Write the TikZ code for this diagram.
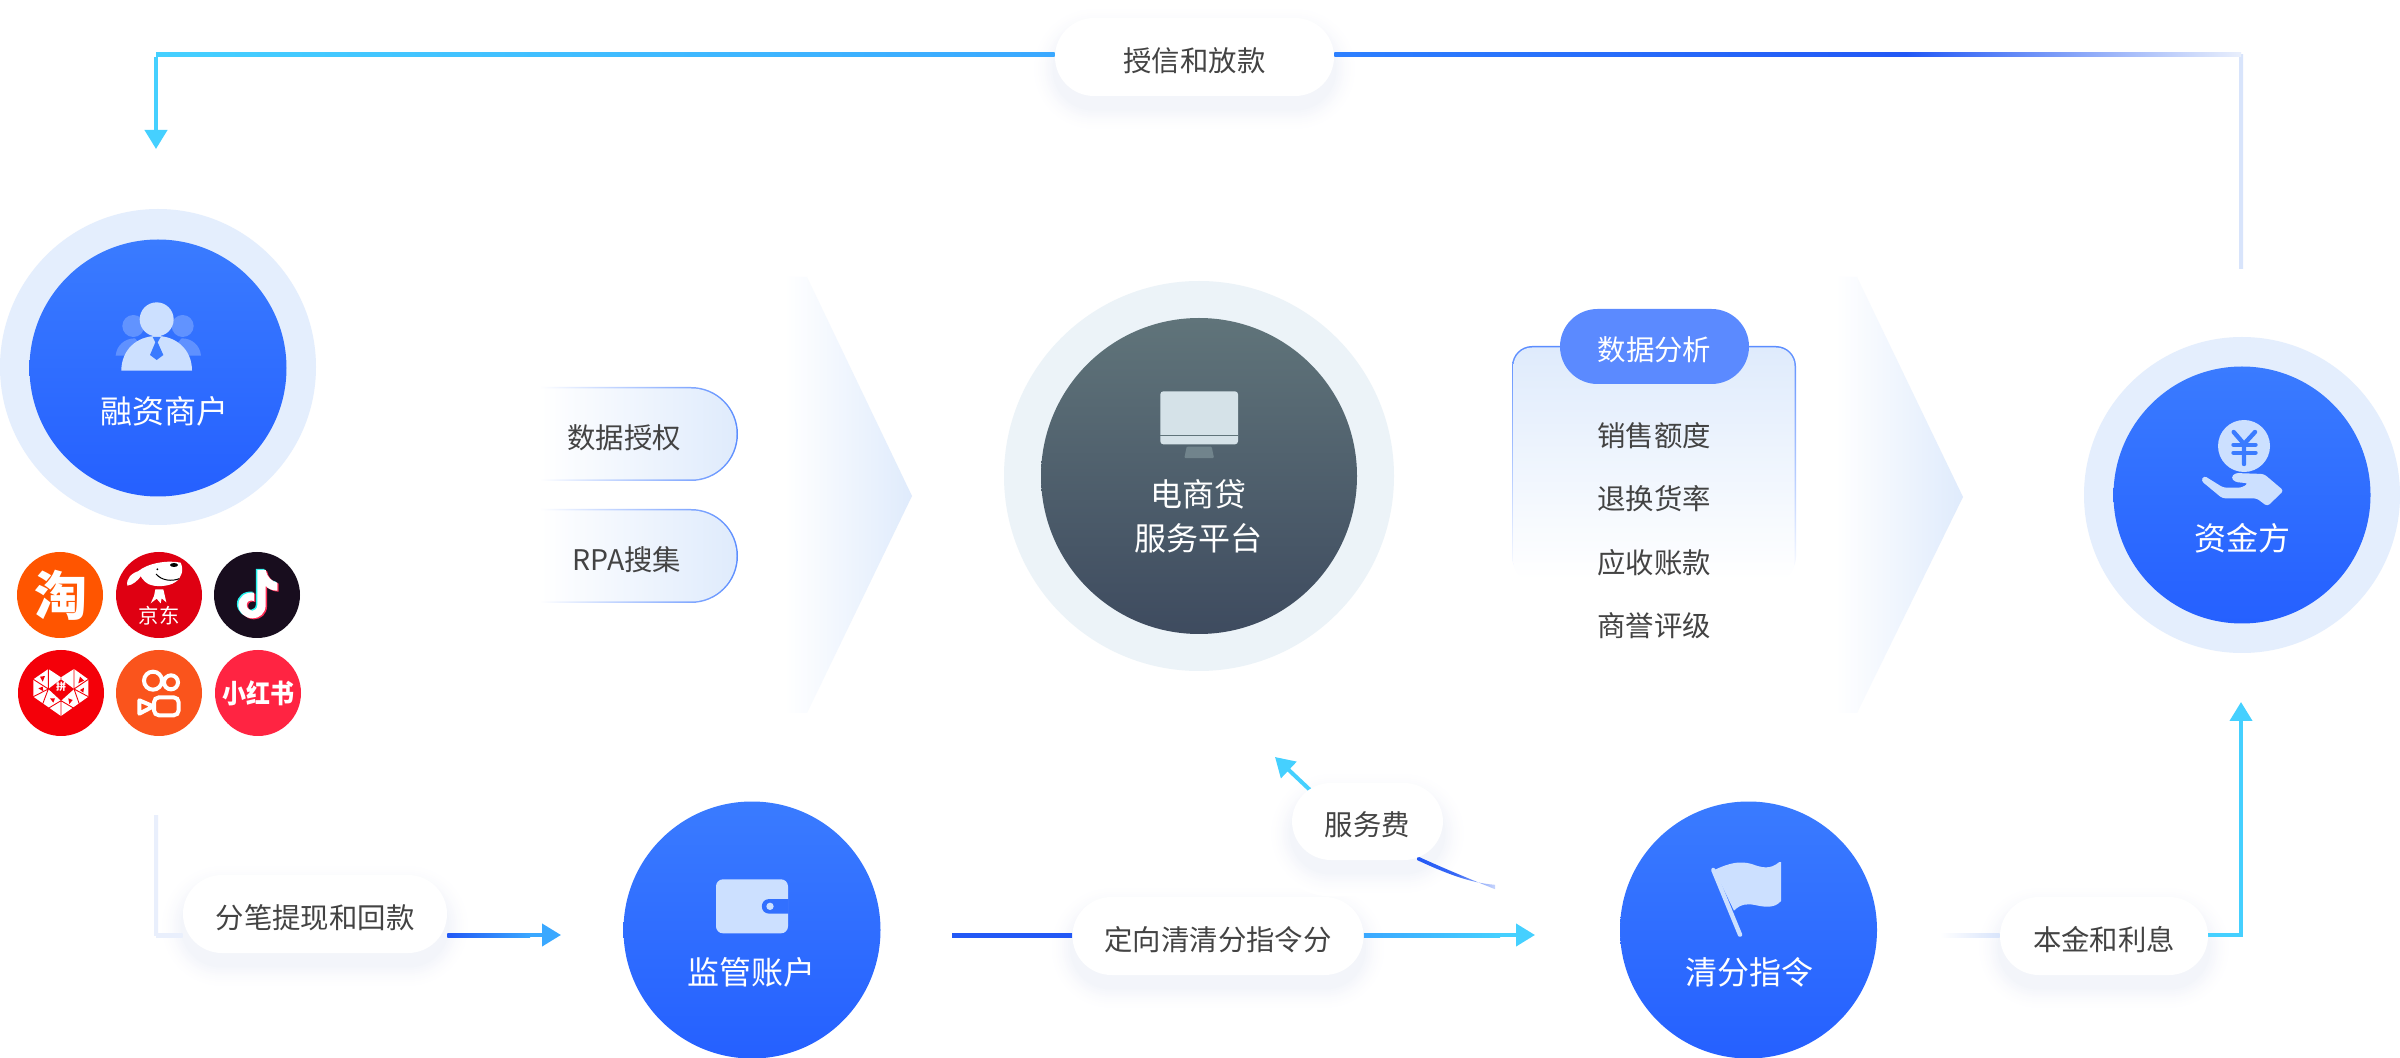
\documentclass[tikz,border=0pt]{standalone}
\usepackage{fontspec}
\setmainfont{Noto Sans CJK SC}
\usetikzlibrary{arrows.meta,calc}
\definecolor{txt}{HTML}{434343}
\definecolor{ringblue}{HTML}{E4EEFD}
\definecolor{ringgrey}{HTML}{ECF3F8}
\definecolor{btop}{HTML}{3A7BFF}
\definecolor{bbot}{HTML}{2560FF}
\definecolor{gtop}{HTML}{60747A}
\definecolor{gbot}{HTML}{3E4B5F}
\definecolor{ico}{HTML}{CCE0FF}
\definecolor{monit}{HTML}{D5E2E8}
\definecolor{stand}{HTML}{71848C}
\definecolor{cyanl}{HTML}{45D0FF}
\definecolor{skyl}{HTML}{3AA8FF}
\definecolor{midb}{HTML}{2D80FF}
\definecolor{deepb}{HTML}{2258F5}
\definecolor{paleb}{HTML}{D8E4FB}
\definecolor{paler}{HTML}{E9EFFC}
\definecolor{tint}{HTML}{DFEBFC}
\definecolor{edge}{HTML}{5B8DFF}
\definecolor{tagb}{HTML}{5B8AFF}
\definecolor{shad}{HTML}{3050B0}
\definecolor{ctao}{HTML}{FF5500}
\definecolor{cjd}{HTML}{DF0012}
\definecolor{ctt}{HTML}{180D1E}
\definecolor{cpdd}{HTML}{F40009}
\definecolor{cks}{HTML}{FA541C}
\definecolor{cxhs}{HTML}{FF2442}
\definecolor{ttcyan}{HTML}{25F4EE}
\definecolor{ttred}{HTML}{FE2C55}
\pgfdeclarelayer{bgs}
\pgfdeclarelayer{conn}
\pgfsetlayers{bgs,conn,main}
\newcommand{\hgrad}[4]{\shade[left color=#3,right color=#4] ($(#1)+(0,-1pt)$) rectangle ($(#2)+(0,1pt)$);}
\newcommand{\vgrad}[4]{\shade[top color=#3,bottom color=#4] ($(#1)+(-1pt,0)$) rectangle ($(#2)+(1pt,0)$);}
\newcommand{\pillshadow}[1]{\begin{pgfonlayer}{bgs}\foreach \r in {12,11,...,1}{\pgfmathsetmacro{\shk}{0.04*(13-\r)*(13-\r)}\pgfmathsetmacro{\shc}{19.5+\r}\fill[shad!\shk!white,rounded corners=\shc pt] ($(#1.south west)+(-\r pt,-\r pt-6pt)$) rectangle ($(#1.north east)+(\r pt,\r pt-6pt)$);}\end{pgfonlayer}}
\tikzset{
  ringnode/.style={circle,inner sep=0pt,minimum size=158pt,draw=none},
  bluedisc/.style={circle,inner sep=0pt,minimum size=128.5pt,draw=none,top color=btop,bottom color=bbot},
  greydisc/.style={circle,inner sep=0pt,minimum size=158pt,draw=none,top color=gtop,bottom color=gbot},
  disclabel/.style={text=white,font=\fontsize{16pt}{22.2pt}\selectfont,inner sep=0pt,align=center},
  pill/.style={fill=white,inner sep=0pt,minimum height=39pt,rounded corners=19.5pt,text=txt,font=\fontsize{14.2pt}{18pt}\selectfont,text height=14.2pt,text depth=0pt},
  bodytext/.style={text=txt,font=\fontsize{14.2pt}{18pt}\selectfont,inner sep=0pt},
  logo/.style={circle,inner sep=0pt,minimum size=43pt,draw=none},
  arrowline/.style={line width=2pt,-{Triangle[length=9.5pt,width=11pt]}},
  zoomed/.style={x=0.16667pt,y=-0.16667pt}
}
\begin{document}
\begin{tikzpicture}[x=0.5pt,y=-0.5pt]
\useasboundingbox (0,0) rectangle (2400,1058);
\begin{pgfonlayer}{bgs}
\fill[white] (0,0) rectangle (2400,1058);
\end{pgfonlayer}

% chevrons
\shade[left color=white,right color=tint] (785,277) -- (807,277) -- (912,496) -- (807,713) -- (785,713) -- cycle;
\shade[left color=white,right color=tint] (1835,277) -- (1857,277) -- (1963,497) -- (1857,713) -- (1835,713) -- cycle;

% rings and discs
\node[ringnode,fill=ringblue] (ringM) at (158,367) {};
\node[bluedisc] (merchant) at (158,368) {};
\node[ringnode,fill=ringgrey,minimum size=195pt] (ringP) at (1199,476) {};
\node[greydisc] (platform) at (1199,476) {};
\node[ringnode,fill=ringblue] (ringF) at (2242,495) {};
\node[bluedisc] (funder) at (2242,495) {};
\node[bluedisc] (wallet) at (752,930) {};
\node[bluedisc] (clearing) at (1748.5,930) {};

\node[disclabel] (lblM) at (164,411) {融资商户};
\node[disclabel] (lblP) at (1198,516.5) {电商贷\\[0pt]服务平台};
\node[disclabel] (lblF) at (2242,538) {资金方};
\node[disclabel] (lblW) at (751,972) {监管账户};
\node[disclabel] (lblC) at (1749,972) {清分指令};

% person icon
\begin{scope}[shift={(0,200)},zoomed]
  \fill[ico,opacity=.3] (400,378) circle[radius=33];
  \fill[ico,opacity=.3] (548,378) circle[radius=33];
  \fill[ico,opacity=.3] (347,467) .. controls (350,435) and (375,415) .. (405,415) -- (450,467) -- cycle;
  \fill[ico,opacity=.3] (603,467) .. controls (600,435) and (575,415) .. (545,415) -- (500,467) -- cycle;
  \fill[ico] (364,512) .. controls (364,450) and (410,408) .. (470,408) .. controls (530,408) and (576,450) .. (576,512) -- cycle;
  \fill[ico] (470,358) circle[radius=51];
  \fill[btop] (458,411) -- (482,411) -- (473,427) -- (490,465) -- (470,480) -- (450,465) -- (466,427) -- cycle;
\end{scope}

% monitor icon
\begin{scope}[shift={(1000,270)},zoomed]
  \fill[monit,rounded corners=1.5pt] (481,364) rectangle (714,523);
  \draw[gtop,line width=.5pt] (481,497) -- (714,497);
  \fill[stand,rounded corners=.5pt] (560,530) -- (635,530) -- (642,564) -- (553,564) -- cycle;
\end{scope}

% yen and hand icon
\begin{scope}[shift={(2060,320)},zoomed]
  \fill[ico] (552,378) circle[radius=78];
  \draw[btop,line width=2.2pt,line cap=round,line join=round] (521,336) -- (552,372) -- (585,336) (552,372) -- (552,432);
  \draw[btop,line width=2pt,line cap=round] (520,374) -- (587,374) (520,398) -- (587,398);
  \fill[ico,rounded corners=1.5pt] (423,482) -- (432,467) -- (490,503) -- (545,503) -- (565,490) -- (525,486) -- (513,473) -- (525,459) -- (612,462) -- (671,512) -- (622,559) -- (590,535) -- (487,535) -- cycle;
\end{scope}

% wallet icon
\begin{scope}[shift={(600,790)},zoomed]
  \fill[ico,rounded corners=3.5pt] (348,268) rectangle (564,430);
  \fill[btop!60!bbot] (566,327) -- (508,327) .. controls (478,327) and (478,371) .. (508,371) -- (566,371) -- cycle;
  \fill[ico] (510,349) circle[radius=11];
\end{scope}

% flag icon
\begin{scope}[shift={(1620,790)},zoomed]
  \fill[ico] (283,240) .. controls (330,218) and (360,212) .. (395,222) .. controls (425,233) and (450,240) .. (478,216) -- (483,216) -- (483,333) .. controls (465,355) and (435,352) .. (405,345) .. controls (385,340) and (360,342) .. (342,362) -- cycle;
  \draw[ico,line width=2.2pt,line cap=round] (280,240) -- (360,434);
\end{scope}

% platform logos
\node[logo,fill=ctao] (taobao) at (60,595) {};
\node[logo,fill=cjd] (jd) at (159,595) {};
\node[logo,fill=ctt] (tiktok) at (257,595) {};
\node[logo,fill=cpdd] (pdd) at (61,693) {};
\node[logo,fill=cks] (ks) at (159,693) {};
\node[logo,fill=cxhs] (xhs) at (258,693) {};
\node[text=white,inner sep=0pt,font=\bfseries\fontsize{26.5pt}{30pt}\selectfont] (taotxt) at (61,595) {淘};
\node[text=white,inner sep=0pt,font=\fontsize{10.2pt}{11pt}\selectfont] (jdtxt) at (159,616) {京东};
\node[text=white,inner sep=0pt,font=\bfseries\fontsize{12pt}{13pt}\selectfont,yscale=1.1] (xhstxt) at (258,693) {小红书};
\begin{scope}[shift={(0,520)},zoomed]
  % JD dog
  \fill[white] (414,154) .. controls (445,128) and (505,120) .. (542,128) .. controls (552,150) and (545,175) .. (525,187) .. controls (505,200) and (465,202) .. (445,192) .. controls (430,184) and (422,170) .. (414,154) -- cycle;
  \fill[white] (420,152) .. controls (395,158) and (378,175) .. (382,197) .. controls (400,195) and (415,180) .. (425,165) -- cycle;
  \draw[black,line width=.5pt] (468,162) .. controls (485,182) and (515,185) .. (538,176);
  \fill[black] (472,148) circle[radius=3];
  \fill[black] (522,135) ellipse[x radius=12,y radius=6];
  \fill[white] (466,208) -- (490,208) -- (499,247) -- (485,235) -- (482,250) -- (470,236) -- (452,250) -- (462,228) -- cycle;
  % TikTok note
  \def\ttnote{(772,150) -- (797,150) .. controls (800,170) and (815,185) .. (832,188) -- (832,212) .. controls (818,212) and (805,207) .. (797,198) -- (797,255) .. controls (797,280) and (778,295) .. (758,295) .. controls (735,295) and (715,277) .. (715,255) .. controls (715,232) and (735,215) .. (762,218) -- (762,243) .. controls (750,238) and (740,245) .. (740,255) .. controls (740,265) and (750,272) .. (758,272) .. controls (765,272) and (772,265) .. (772,255) -- cycle}
  \fill[ttcyan,xshift=-0.7pt,yshift=0.5pt] \ttnote;
  \fill[ttred,xshift=0.7pt,yshift=-0.5pt] \ttnote;
  \fill[white] \ttnote;
  % PDD heart
  \fill[white] (100,478) -- (145,447) -- (183,472) -- (222,447) -- (265,478) -- (265,530) -- (183,588) -- (100,530) -- cycle;
  \fill[cpdd] (183,478) -- (222,507) -- (183,542) -- (145,507) -- cycle;
  \draw[cpdd,line width=.45pt] (145,447) -- (145,507) (222,447) -- (222,507) (100,478) -- (145,507) -- (100,530) (265,478) -- (222,507) -- (265,530) (183,542) -- (183,588) (145,507) -- (128,552) (222,507) -- (238,552) (145,565) -- (183,542) -- (222,565) (183,472) -- (183,478);
  \fill[cpdd] (120,470) -- (135,468) -- (128,485) -- cycle (240,470) -- (252,482) -- (235,490) -- cycle (150,535) -- (165,535) -- (160,548) -- cycle (205,535) -- (218,540) -- (208,552) -- cycle (115,505) -- (128,500) -- (130,514) -- cycle (240,510) -- (252,503) -- (250,518) -- cycle;
  % Kuaishou
  \draw[white,line width=2pt] (459,482) circle[radius=27] (513,487) circle[radius=21];
  \draw[white,line width=2pt,rounded corners=2.5pt] (462,532) rectangle (536,586);
  \draw[white,line width=2pt,line join=round] (418,541) -- (460,559) -- (418,581) -- cycle;
\end{scope}
\node[text=white,inner sep=0pt,font=\bfseries\fontsize{5pt}{6pt}\selectfont] (pintxt) at (61,687) {拼};

% data source pills
\shade[left color=white,right color=edge] (540,387) -- (691,387) arc[start angle=90,end angle=-90,radius=23.5pt] -- (540,481) -- cycle;
\shade[left color=white,right color=tint] (540,388.5) -- (691,388.5) arc[start angle=90,end angle=-90,radius=22.75pt] -- (540,479.5) -- cycle;
\shade[left color=white,right color=edge] (540,509) -- (691,509) arc[start angle=90,end angle=-90,radius=23.5pt] -- (540,603) -- cycle;
\shade[left color=white,right color=tint] (540,510.5) -- (691,510.5) arc[start angle=90,end angle=-90,radius=22.75pt] -- (540,601.5) -- cycle;
\node[bodytext] (auth) at (624,438) {数据授权};
\node[bodytext] (rpa) at (627,560) {RPA搜集};

% analysis panel
\shade[top color=edge,bottom color=white,rounded corners=10pt] (1512,346) rectangle (1796,577);
\shade[top color=tint,bottom color=white,rounded corners=9.3pt] (1513.5,347.5) rectangle (1794.5,580);
\node[fill=tagb,text=white,inner sep=0pt,minimum width=94.5pt,minimum height=37.5pt,rounded corners=18.75pt,font=\fontsize{14.2pt}{18pt}\selectfont,text height=14.2pt,text depth=0pt] (analysis) at (1654.5,346.5) {数据分析};
\node[bodytext] (item1) at (1654,436) {销售额度};
\node[bodytext] (item2) at (1654,499) {退换货率};
\node[bodytext] (item3) at (1654,563) {应收账款};
\node[bodytext] (item4) at (1654,626) {商誉评级};

% label pills
\node[pill,minimum width=139.5pt] (grant) at (1194.5,57) {授信和放款};
\node[pill,minimum width=132pt] (repay) at (315,914) {分笔提现和回款};
\node[pill,minimum width=145.5pt] (direct) at (1218,936) {定向清清分指令分};
\node[pill,minimum width=104pt] (principal) at (2104,936) {本金和利息};
\node[pill,minimum width=75.5pt,minimum height=38.5pt] (fee) at (1367.5,821.5) {服务费};
\pillshadow{grant}\pillshadow{repay}\pillshadow{direct}\pillshadow{principal}\pillshadow{fee}

% connectors
\coordinate (tStart) at (2241,269);
\coordinate (tCorner) at (2241,55);
\coordinate (tMid) at (1906,55);
\coordinate (tLeft) at (156,55);
\coordinate (tDown) at (156,125);
\coordinate (tEnd) at (156,149);
\coordinate (rTop) at (156,815);
\coordinate (rCorner) at (156,935);
\coordinate (rEnd) at (561,935);
\coordinate (rStem) at (530,935);
\coordinate (wStart) at (952,935);
\coordinate (dEnd) at (1535,935);
\coordinate (dStem) at (1500,935);
\coordinate (pStart) at (1940,935);
\coordinate (pCorner) at (2241,935);
\coordinate (pStem) at (2241,735);
\coordinate (pEnd) at (2241,702);
\coordinate (feeTail) at (1495,887);
\coordinate (feeStem) at (1310,790);
\coordinate (feeEnd) at (1275,757);
\begin{pgfonlayer}{conn}
  \vgrad{tCorner}{tStart}{paleb}{paleb}
  \hgrad{tMid}{tCorner}{deepb}{paler}
  \hgrad{grant.east |- tMid}{tMid}{midb}{deepb}
  \hgrad{tLeft}{grant.west |- tLeft}{cyanl}{skyl}
  \fill[cyanl] ($(tLeft)+(-1pt,-1pt)$) rectangle ($(tDown)+(1pt,0)$);
  \draw[arrowline,cyanl] (tDown) -- (tEnd);

  \vgrad{rTop}{rCorner}{paler}{paler}
  \hgrad{rCorner}{repay.west |- rCorner}{paler}{paler}
  \hgrad{repay.east |- rCorner}{rStem}{deepb}{skyl}
  \draw[arrowline,skyl] (rStem) -- (rEnd);

  \hgrad{wStart}{direct.west |- wStart}{deepb}{deepb}
  \hgrad{direct.east |- dStem}{dStem}{skyl}{cyanl}
  \draw[arrowline,cyanl] (dStem) -- (dEnd);

  \hgrad{pStart}{principal.west |- pStart}{white}{paleb}
  \fill[cyanl] ($(principal.east |- pCorner)+(0,-1pt)$) rectangle ($(pCorner)+(1pt,1pt)$);
  \fill[cyanl] ($(pStem)+(-1pt,0)$) rectangle ($(pCorner)+(1pt,0)$);
  \draw[arrowline,cyanl] (pStem) -- (pEnd);

  \shade[left color=deepb,right color=deepb!25!white,middle color=deepb!90!white] (1417,856) .. controls (1445,869) and (1470,879) .. ($(feeTail)+(0,-1.1pt)$) -- ($(feeTail)+(0,1.1pt)$) .. controls (1470,883) and (1445,873) .. (1417,860) -- cycle;
  \draw[arrowline,cyanl] (feeStem) -- (feeEnd);
\end{pgfonlayer}
\end{tikzpicture}
\end{document}
